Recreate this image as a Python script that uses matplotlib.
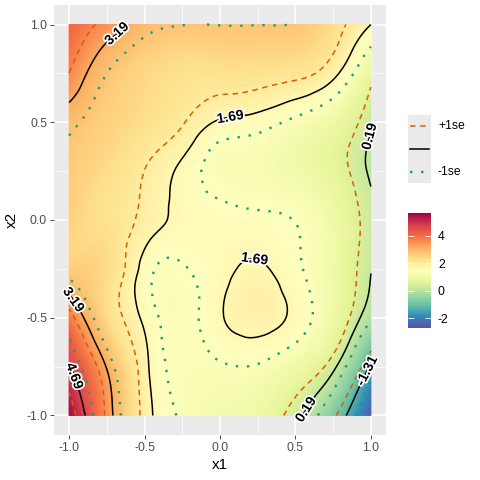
import numpy as np
import matplotlib
matplotlib.use('Agg')
import matplotlib.pyplot as plt
import matplotlib.tri as mtri
from matplotlib.colors import Normalize
from matplotlib.cm import ScalarMappable
import matplotlib.patheffects as pe
from matplotlib.ticker import FixedLocator

plt.rcParams['font.family'] = ['Liberation Sans', 'DejaVu Sans']
plt.rcParams['axes.unicode_minus'] = False

# ---- data ----
x_nodes = [-1.0, -0.75, -0.5, -0.25, 0.0, 0.25, 0.5, 0.75, 1.0]
y_nodes = [-1.0, -0.75, -0.5, -0.25, 0.0, 0.25, 0.5, 0.75, 1.0]
# fitted surface, rows listed from y = 1 (top) down to y = -1 (bottom)
fit_y_1p00 = [4.10, 3.50, 2.95, 2.79, 2.78, 2.78, 2.75, 2.35, 1.69]
fit_y_0p75 = [3.65, 2.80, 2.45, 2.28, 2.25, 2.22, 2.15, 1.80, 0.75]
fit_y_0p50 = [2.90, 2.55, 2.30, 2.00, 1.65, 1.55, 1.30, 0.95, 0.25]
fit_y_0p25 = [2.65, 2.35, 1.97, 1.62, 1.30, 1.20, 1.05, 0.72, 0.12]
fit_y_0p00 = [2.55, 2.25, 1.88, 1.62, 1.55, 1.50, 1.40, 0.98, 0.30]
fit_y_m0p25 = [2.60, 2.35, 1.57, 1.40, 1.60, 1.73, 1.48, 0.98, 0.20]
fit_y_m0p50 = [3.85, 2.40, 1.62, 1.30, 1.65, 1.83, 1.60, 0.97, -0.10]
fit_y_m0p75 = [4.75, 3.15, 1.80, 1.30, 1.33, 1.33, 1.00, 0.30, -1.40]
fit_y_m1p00 = [5.60, 3.50, 1.90, 1.30, 1.10, 0.95, 0.35, -0.75, -2.50]

# standard error surface on a coarser grid, rows from y = 1 down to y = -1
se_x_nodes = [-1.0, -0.5, 0.0, 0.5, 1.0]
se_y_nodes = [-1.0, -0.5, 0.0, 0.5, 1.0]
se_y_1p0 = [0.55, 0.42, 0.42, 0.42, 0.50]
se_y_0p5 = [0.42, 0.30, 0.28, 0.30, 0.32]
se_y_0p0 = [0.40, 0.28, 0.25, 0.28, 0.30]
se_y_m0p5 = [0.42, 0.28, 0.28, 0.30, 0.33]
se_y_m1p0 = [0.55, 0.35, 0.38, 0.40, 0.50]

contour_levels = [-1.31, 0.19, 1.69, 3.19, 4.69]
colorbar_ticks = [-2, 0, 2, 4]
fill_limits = (-2.73, 5.68)
x_ticks = [-1.0, -0.5, 0.0, 0.5, 1.0]
x_tick_labels = ['-1.0', '-0.5', '0.0', '0.5', '1.0']
y_ticks = [-1.0, -0.5, 0.0, 0.5, 1.0]
y_tick_labels = ['-1.0', '-0.5', '0.0', '0.5', '1.0']
legend_labels = ['+1se', '', '-1se']

# ---- build smooth fields with matplotlib's triangulation tools ----
fit = np.array([fit_y_m1p00, fit_y_m0p75, fit_y_m0p50, fit_y_m0p25, fit_y_0p00,
                fit_y_0p25, fit_y_0p50, fit_y_0p75, fit_y_1p00])
se = np.array([se_y_m1p0, se_y_m0p5, se_y_0p0, se_y_0p5, se_y_1p0])

X, Y = np.meshgrid(x_nodes, y_nodes)
tri = mtri.Triangulation(X.ravel(), Y.ravel())
fit_interp = mtri.CubicTriInterpolator(tri, fit.ravel(), kind='min_E')
refiner = mtri.UniformTriRefiner(tri)
tri_f, fit_f = refiner.refine_field(fit.ravel(), triinterpolator=fit_interp, subdiv=4)

SX, SY = np.meshgrid(se_x_nodes, se_y_nodes)
se_tri = mtri.Triangulation(SX.ravel(), SY.ravel())
se_interp = mtri.CubicTriInterpolator(se_tri, se.ravel(), kind='min_E')
se_f = np.ma.filled(se_interp(tri_f.x, tri_f.y), 0.3)

lower_f = fit_f - se_f
upper_f = fit_f + se_f

# ---- figure ----
W = 480.0
fig = plt.figure(figsize=(4.8, 4.8), dpi=100)
ax = fig.add_axes([54 / W, 45 / W, 332 / W, 430 / W])
ax.set_facecolor('#EBEBEB')
for s in ax.spines.values():
    s.set_visible(False)
ax.set_axisbelow(True)

cmap = plt.get_cmap('Spectral_r')
norm = Normalize(vmin=fill_limits[0], vmax=fill_limits[1])
ax.tripcolor(tri_f, fit_f, shading='gouraud', cmap=cmap, norm=norm, zorder=1)

ax.tricontour(tri_f, lower_f, levels=contour_levels, colors='#D95F02',
              linewidths=1.1, linestyles=[(0, (3.6, 3.0))], zorder=3)
ax.tricontour(tri_f, upper_f, levels=contour_levels, colors='#1B9E77',
              linewidths=1.7, linestyles=[(0, (1.0, 3.7))], zorder=3)
cs = ax.tricontour(tri_f, fit_f, levels=contour_levels, colors='black',
                   linewidths=1.1, linestyles='solid', zorder=4)

label_spots = [(-0.69, 0.96), (0.07, 0.52), (0.98, 0.43), (0.23, -0.2),
               (-0.99, -0.42), (-0.97, -0.80), (0.55, -0.96), (0.97, -0.77)]
texts = ax.clabel(cs, fmt='%.2f', inline=False, manual=label_spots, fontsize=10,
                  colors='black')
for t in texts:
    t.set_fontweight('bold')
    t.set_path_effects([pe.withStroke(linewidth=2.5, foreground='white')])
    t.set_zorder(6)

ax.set_xlim(-1.1, 1.1)
ax.set_ylim(-1.1, 1.1)
ax.set_xticks(x_ticks)
ax.set_xticklabels(x_tick_labels)
ax.set_yticks(y_ticks)
ax.set_yticklabels(y_tick_labels)
ax.xaxis.set_minor_locator(FixedLocator([-0.75, -0.25, 0.25, 0.75]))
ax.yaxis.set_minor_locator(FixedLocator([-0.75, -0.25, 0.25, 0.75]))
ax.grid(which='major', color='white', linewidth=1.1)
ax.grid(which='minor', color='white', linewidth=0.55)
ax.tick_params(which='major', length=3, width=0.6, color='#333333',
               labelcolor='#4D4D4D', labelsize=8.8, pad=2)
ax.tick_params(which='minor', length=0)
ax.set_xlabel('x1', fontsize=11, color='black', labelpad=3)
ax.set_ylabel('x2', fontsize=11, color='black', labelpad=5)

# ---- line legend ----
lax = fig.add_axes([408 / W, 1 - 183 / W, 23 / W, 68 / W])
lax.set_facecolor('#EBEBEB')
lax.set_xlim(0, 1)
lax.set_ylim(0, 1)
lax.set_xticks([])
lax.set_yticks([])
for s in lax.spines.values():
    s.set_visible(False)
ys = [0.838, 0.5, 0.162]
lax.plot([0.08, 0.92], [ys[0]] * 2, color='#D95F02', lw=1.1, ls=(0, (3.6, 3.0)))
lax.plot([0.08, 0.92], [ys[1]] * 2, color='black', lw=1.1)
lax.plot([0.08, 0.92], [ys[2]] * 2, color='#1B9E77', lw=1.7, ls=(0, (1.0, 3.7)))
for yy, lab in zip([126, 149, 172], legend_labels):
    fig.text(438 / W, 1 - yy / W, lab, va='center', ha='left', fontsize=8.8)

# ---- colour bar ----
cax = fig.add_axes([408 / W, 1 - 328 / W, 23 / W, 115 / W])
sm = ScalarMappable(norm=norm, cmap=cmap)
cb = fig.colorbar(sm, cax=cax, ticks=colorbar_ticks)
cb.outline.set_visible(False)
cax.tick_params(direction='in', length=4.5, width=0.6, color='white',
                left=True, right=True, labelsize=8.8, pad=5)
cax.set_yticklabels([str(t) for t in colorbar_ticks])

fig.savefig('out.png', dpi=100)
